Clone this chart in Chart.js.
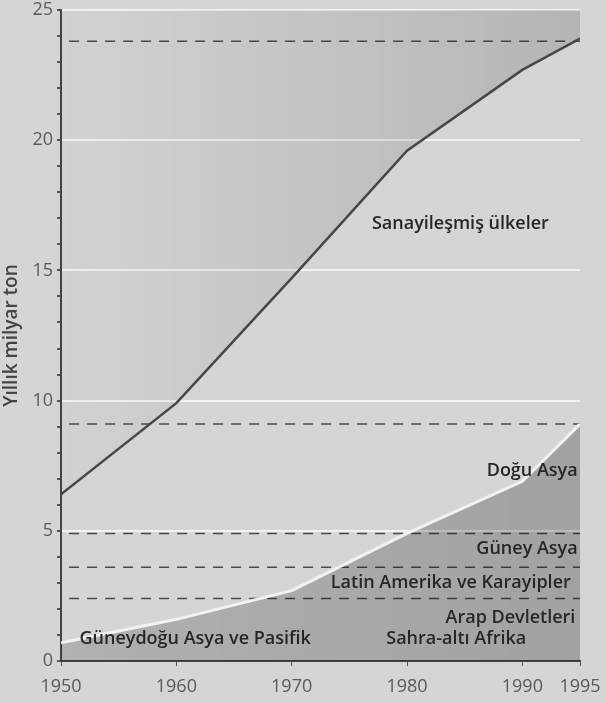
<!DOCTYPE html>
<html>
<head>
<meta charset="utf-8">
<script src="https://cdn.jsdelivr.net/npm/chart.js@4/dist/chart.umd.min.js"></script>
<style>
  html, body { margin: 0; padding: 0; background: #d5d5d5; }
  #wrap { width: 606px; height: 703px; }
</style>
</head>
<body>
<div id="wrap"><canvas id="resourceChart" width="606" height="703"></canvas></div>
<script>
// values (milyar ton / yıl)
const years = [1950, 1960, 1970, 1980, 1990, 1995];
const worldTotal = [6.4, 9.9, 14.7, 19.6, 22.7, 23.9];
const developingTotal = [0.7, 1.6, 2.7, 4.9, 6.9, 9.1];
// 1995 cumulative levels marked by dashed lines
const levels1995 = [23.8, 9.1, 4.9, 3.6, 2.4];
const xTicks = [1950, 1960, 1970, 1980, 1990, 1995];
const yTicks = [0, 5, 10, 15, 20, 25];
const regionNames = [
  "Sanayileşmiş ülkeler", "Doğu Asya", "Güney Asya",
  "Latin Amerika ve Karayipler", "Arap Devletleri",
  "Güneydoğu Asya ve Pasifik", "Sahra-altı Afrika"
];

const FONT = "'Open Sans', 'DejaVu Sans', sans-serif";

function hGradient(ctx, from, to) {
  const area = ctx.chart.chartArea;
  if (!area) return to;
  const g = ctx.chart.ctx.createLinearGradient(area.left, 0, area.right, 0);
  g.addColorStop(0, from);
  g.addColorStop(1, to);
  return g;
}

const dashedSets = levels1995.map(v => ({
  data: [{ x: 1950.7, y: v }, { x: 1995, y: v }],
  borderColor: "#4a4a4a",
  borderWidth: 1.5,
  borderDash: [10, 8],
  pointRadius: 0,
  fill: false
}));

// region names, placed through the scales
const labelSpots = [
  { name: regionNames[0], x: 1992.3, y: 16.8, align: "right" },
  { name: regionNames[1], x: 1994.8, y: 7.3, align: "right" },
  { name: regionNames[2], x: 1994.8, y: 4.3, align: "right" },
  { name: regionNames[3], x: 1994.2, y: 3.0, align: "right" },
  { name: regionNames[4], x: 1994.6, y: 1.65, align: "right" },
  { name: regionNames[5], x: 1951.6, y: 0.85, align: "left" },
  { name: regionNames[6], x: 1978.2, y: 0.85, align: "left" }
];

const regionLabels = {
  id: "regionLabels",
  afterDatasetsDraw(chart) {
    const { ctx, scales: { x, y } } = chart;
    ctx.save();
    ctx.font = "600 18px " + FONT;
    ctx.fillStyle = "#262626";
    ctx.textBaseline = "middle";
    labelSpots.forEach(s => {
      ctx.textAlign = s.align;
      ctx.fillText(s.name, x.getPixelForValue(s.x), y.getPixelForValue(s.y));
    });
    ctx.restore();
  }
};

new Chart(document.getElementById("resourceChart"), {
  type: "line",
  data: {
    datasets: [
      {
        data: years.map((yr, i) => ({ x: yr, y: developingTotal[i] })),
        borderColor: "#f2f2f2",
        borderWidth: 3,
        pointRadius: 0,
        fill: "origin",
        backgroundColor: ctx => hGradient(ctx, "rgba(0,0,0,0.17)", "rgba(0,0,0,0.24)")
      },
      {
        data: years.map((yr, i) => ({ x: yr, y: worldTotal[i] })),
        borderColor: "#474747",
        borderWidth: 2.5,
        pointRadius: 0,
        fill: "end",
        backgroundColor: ctx => hGradient(ctx, "rgba(0,0,0,0.01)", "rgba(0,0,0,0.15)")
      },
      ...dashedSets
    ]
  },
  options: {
    responsive: false,
    animation: false,
    devicePixelRatio: 1,
    layout: { padding: { top: 10, right: 26, left: 0, bottom: 0 } },
    plugins: {
      legend: { display: false },
      tooltip: { enabled: false }
    },
    scales: {
      x: {
        type: "linear",
        min: 1950,
        max: 1995,
        afterBuildTicks: s => { s.ticks = xTicks.map(v => ({ value: v })); },
        afterFit: s => { s.height = 42; s.paddingLeft = 0; s.paddingRight = 0; },
        ticks: {
          color: "#5a5a5a",
          font: { family: FONT, size: 18 },
          padding: 10,
          maxRotation: 0,
          autoSkip: false,
          callback: v => String(v)
        },
        grid: { color: "rgba(0,0,0,0)", tickColor: "#555", tickLength: 5 },
        border: { color: "#444", width: 2 }
      },
      y: {
        min: 0,
        max: 25,
        afterBuildTicks: s => {
          const t = [];
          for (let v = 0; v <= 25; v++) t.push({ value: v });
          s.ticks = t;
        },
        afterFit: s => { s.width = 61; s.paddingTop = 0; s.paddingBottom = 0; },
        ticks: {
          color: "#5a5a5a",
          font: { family: FONT, size: 18 },
          padding: 4,
          autoSkip: false,
          callback: v => (yTicks.includes(v) ? String(v) : "")
        },
        grid: {
          color: c => (c.tick && c.tick.value % 5 === 0 && c.tick.value > 0 ? "rgba(255,255,255,0.7)" : "rgba(0,0,0,0)"),
          lineWidth: 2,
          tickColor: "#555",
          tickLength: 4
        },
        border: { color: "#444", width: 2 },
        title: {
          display: true,
          text: "Yıllık milyar ton",
          color: "#444",
          font: { family: FONT, size: 19, weight: "600" },
          padding: 0
        }
      }
    }
  },
  plugins: [regionLabels]
});
</script>
</body>
</html>
